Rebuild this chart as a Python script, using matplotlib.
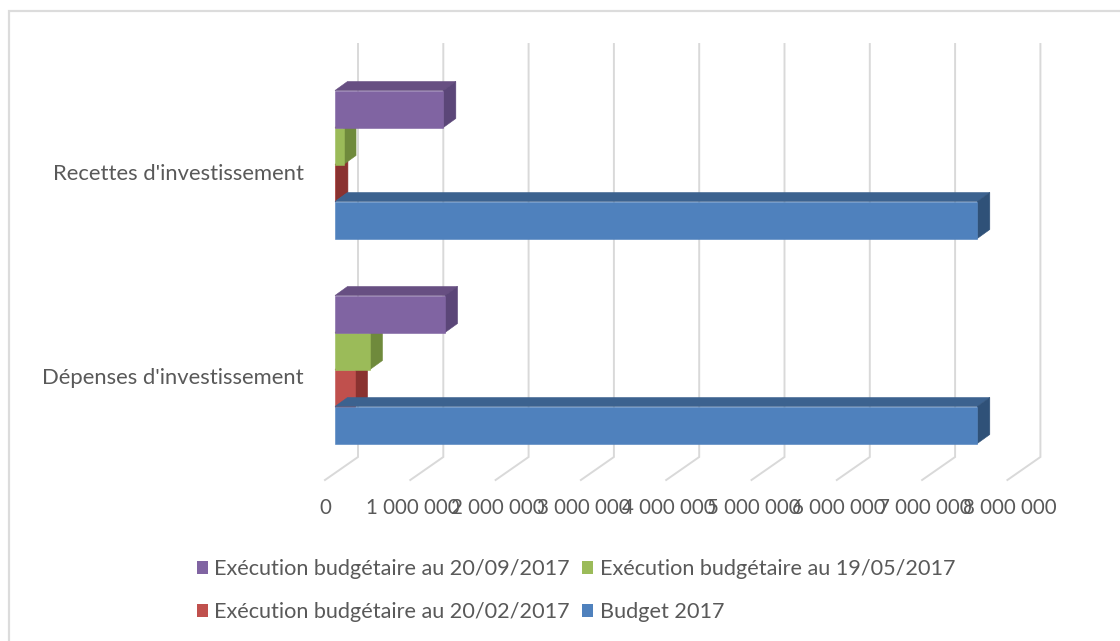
import matplotlib
matplotlib.use("Agg")
import matplotlib.pyplot as plt
from matplotlib.patches import Patch, Polygon, Rectangle

categories = ["Dépenses d'investissement", "Recettes d'investissement"]
budget_2017 = [7530000, 7530000]
exec_20_02 = [235000, 5000]
exec_19_05 = [410000, 100000]
exec_20_09 = [1290000, 1270000]
tick_values = [0, 1000000, 2000000, 3000000, 4000000, 5000000, 6000000, 7000000, 8000000]
tick_labels = ["0", "1 000 000", "2 000 000", "3 000 000", "4 000 000", "5 000 000",
               "6 000 000", "7 000 000", "8 000 000"]
legend_labels = ["Exécution budgétaire au 20/09/2017", "Exécution budgétaire au 20/02/2017",
                 "Exécution budgétaire au 19/05/2017", "Budget 2017"]

W, H = 1120, 641
PX_PER_VALUE = 85.3 / 1e6   # horizontal pixels per unit on the bar plane
PX_PER_CAT = 205.0          # vertical pixels between the two categories
ZERO_X = 335.0
CAT0_Y = 369.5              # pixel row of the first category centre

# oblique depth of a bar, in data units
BAR_DX = 12.5 / PX_PER_VALUE
BAR_DY = 9.0 / PX_PER_CAT
BAR_H = 37.0 / PX_PER_CAT
# wall and floor of the fake 3D box
WALL_DX = 23.0 / PX_PER_VALUE
FLOOR_DX = -10.0 / PX_PER_VALUE
WALL_TOP = (CAT0_Y - 44) / PX_PER_CAT
WALL_BOTTOM = (CAT0_Y - 457) / PX_PER_CAT
FLOOR_FRONT = (CAT0_Y - 480) / PX_PER_CAT
GRID = "#d9d9d9"
TEXT = "#595959"

# (values, front colour, top colour, side colour, slot in the cluster)
# budget goes last so its top face sits over the red bar
series = [
    (exec_20_02, "#c0504d", "#9a3d3a", "#8a3230", -1),
    (exec_19_05, "#9bbb59", "#7d9748", "#6f8a3c", 0),
    (exec_20_09, "#8064a2", "#674f82", "#5b4678", 1),
    (budget_2017, "#4f81bd", "#3c628f", "#2f5178", -2),
]

plt.rcParams["font.family"] = ["Lato", "DejaVu Sans"]
fig = plt.figure(figsize=(W / 100, H / 100), dpi=100)
ax = fig.add_axes([0, 0, 1, 1])
ax.set_xlim(-ZERO_X / PX_PER_VALUE, (W - ZERO_X) / PX_PER_VALUE)
ax.set_ylim((CAT0_Y - H) / PX_PER_CAT, CAT0_Y / PX_PER_CAT)
ax.axis("off")

# chart frame, cropped to its top and left sides
ax.plot([9 / W, 9 / W, 1], [0, 1 - 11 / H, 1 - 11 / H], transform=ax.transAxes,
        color="#dcdcdc", linewidth=1.6, solid_joinstyle="miter", zorder=0)

# back wall gridlines and their floor segments
for v in tick_values:
    ax.plot([v + WALL_DX, v + WALL_DX, v + FLOOR_DX], [WALL_TOP, WALL_BOTTOM, FLOOR_FRONT],
            color=GRID, linewidth=1.4, solid_joinstyle="miter", zorder=1)

# bars, front face plus the two visible oblique faces
z = 2
for values, front, top, side, slot in series:
    for cat, v in enumerate(values):
        y0 = cat + slot * BAR_H
        y1 = y0 + BAR_H
        ax.add_patch(Polygon([(0, y1), (BAR_DX, y1 + BAR_DY), (v + BAR_DX, y1 + BAR_DY), (v, y1)],
                             facecolor=top, edgecolor=top, linewidth=0.4, zorder=z))
        ax.add_patch(Polygon([(v, y0), (v + BAR_DX, y0 + BAR_DY), (v + BAR_DX, y1 + BAR_DY), (v, y1)],
                             facecolor=side, edgecolor=side, linewidth=0.4, zorder=z))
        ax.add_patch(Rectangle((0, y0), v, BAR_H, facecolor=front, edgecolor=front, linewidth=0.4, zorder=z))
    z += 1

# category labels
for cat, name in enumerate(categories):
    ax.text(-31 / PX_PER_VALUE, cat - (8 + cat * 2) / PX_PER_CAT, name, ha="right", va="center",
            fontsize=15.8, color=TEXT)

# value labels under the floor
for v, lab in zip(tick_values, tick_labels):
    shift = 2.5 / PX_PER_VALUE if v else 0
    ax.text(v + FLOOR_DX + shift, (CAT0_Y - 508) / PX_PER_CAT, lab,
            ha="center", va="center", fontsize=14.8, color=TEXT)

handles = [Patch(facecolor=c) for c in ["#8064a2", "#c0504d", "#9bbb59", "#4f81bd"]]
ax.legend(handles, legend_labels, ncol=2, frameon=False, fontsize=15.6, labelcolor=TEXT,
          loc="center left", bbox_to_anchor=(188 / W, 1 - 590.5 / H), borderaxespad=0,
          handlelength=0.52, handleheight=0.52, handletextpad=0.3, columnspacing=0.55,
          labelspacing=1.05)

fig.savefig("out.png", dpi=100)
